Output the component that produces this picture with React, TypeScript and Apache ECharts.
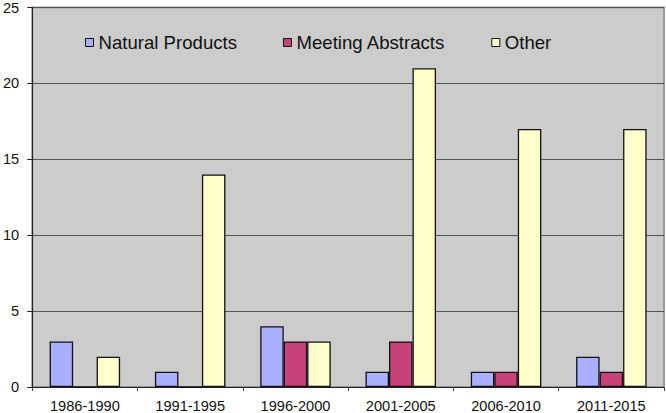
import React, { useEffect, useRef } from "react";
import * as echarts from "echarts";

const categories = ["1986-1990", "1991-1995", "1996-2000", "2001-2005", "2006-2010", "2011-2015"];
const naturalProducts = [3, 1, 4, 1, 1, 2];
const meetingAbstracts = [0, 0, 3, 3, 1, 1];
const other = [2, 14, 3, 21, 17, 17];
const seriesNames = ["Natural Products", "Meeting Abstracts", "Other"];

export default function App() {
  const ref = useRef<HTMLDivElement>(null);
  useEffect(() => {
    if (!ref.current) return;
    const chart = echarts.init(ref.current, undefined, { renderer: "svg" });
    const font = "Liberation Sans, Arial, sans-serif";
    const barStyle = (color: string) => ({ color, borderColor: "#111", borderWidth: 1.3 });
    chart.setOption({
      animation: false,
      backgroundColor: "#ffffff",
      textStyle: { fontFamily: font },
      grid: { left: 31, right: 2, top: 5, bottom: 26, show: true, backgroundColor: "#cccccc", borderColor: "#999999", borderWidth: 2 },
      legend: {
        left: 80,
        top: 28,
        itemWidth: 8,
        itemHeight: 8,
        itemGap: 46,
        icon: "rect",
        data: seriesNames,
        textStyle: { fontSize: 18.6, color: "#111", fontFamily: font },
        itemStyle: { borderColor: "#111", borderWidth: 1 },
      },
      xAxis: {
        type: "category",
        data: categories,
        axisLine: { lineStyle: { color: "#222", width: 1 } },
        axisTick: { show: true, alignWithLabel: false, length: 4, lineStyle: { color: "#444" } },
        axisLabel: { fontSize: 14.6, color: "#111", margin: 11, fontFamily: font },
      },
      yAxis: {
        type: "value",
        min: 0,
        max: 25,
        interval: 5,
        axisLine: { show: true, lineStyle: { color: "#222", width: 1 } },
        axisTick: { show: true, length: 5, lineStyle: { color: "#222" } },
        axisLabel: { fontSize: 14.6, color: "#111", margin: 13, fontFamily: font },
        splitLine: { show: true, lineStyle: { color: "#555", width: 1 } },
      },
      series: [
        { name: seriesNames[0], type: "bar", data: naturalProducts, barWidth: 23.5, barGap: "0%", barCategoryGap: "33%", itemStyle: barStyle("#aab0ff") },
        { name: seriesNames[1], type: "bar", data: meetingAbstracts, barWidth: 23.5, barGap: "0%", itemStyle: barStyle("#c8427a") },
        { name: seriesNames[2], type: "bar", data: other, barWidth: 23.5, barGap: "0%", itemStyle: barStyle("#ffffcc") },
      ],
    });
    return () => chart.dispose();
  }, []);
  return <div ref={ref} style={{ width: 666, height: 413, position: "absolute", left: 0, top: 0 }} />;
}
